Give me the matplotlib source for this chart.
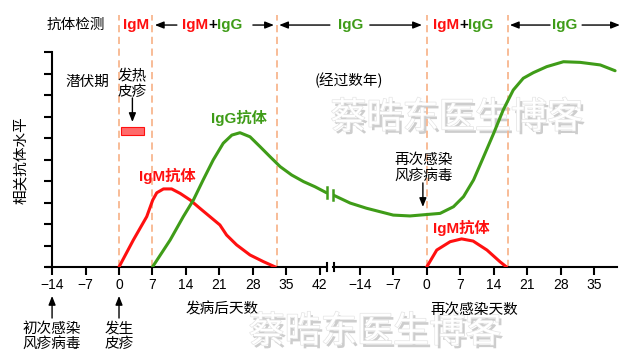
import matplotlib
matplotlib.use('Agg')
import matplotlib.pyplot as plt
import matplotlib.transforms as mtransforms
import matplotlib.patheffects as pe

plt.rcParams['font.family'] = ['Noto Sans CJK SC', 'DejaVu Sans']
plt.rcParams['font.size'] = 10.5

RED = '#ff1010'
GREEN = '#3f9c18'
DASH = '#f8b68f'
LATIN = ['Liberation Sans', 'Noto Sans CJK SC']

# %% data, level in arbitrary units 0-10
# first infection, days after rash onset
prim_igm_days = [0, 3.0, 5.8, 7.05, 7.9, 9.3, 11.0, 12.8, 14.9, 16.9, 19.0, 21.1,
                 22.5, 24.6, 27.4, 30.2, 32.7]
prim_igm = [0, 1.26, 2.35, 3.12, 3.46, 3.64, 3.64, 3.43, 3.12, 2.74, 2.35, 1.96,
            1.49, 1.03, 0.56, 0.25, 0.0]

prim_igg_days = [7, 10.7, 13.45, 15.55, 17.6, 19.7, 21.8, 23.6, 25.3, 27.4, 29.5,
                 31.6, 33.7, 36.1, 38.6, 41.0, 43.4]
prim_igg = [0, 1.26, 2.35, 3.12, 4.06, 4.99, 5.77, 6.15, 6.26, 6.07, 5.61,
            5.14, 4.68, 4.29, 3.98, 3.74, 3.46]

# re-infection, days after exposure
sec_igg_days = [-19.6, -16.0, -12.6, -7.0, -3.5, -1.4, 2.8, 5.6, 7.7, 9.8, 11.9,
                14.0, 16.0, 18.1, 20.2, 22.3, 25.1, 28.6, 32.1, 36.3, 39.4]
sec_igg = [3.36, 2.98, 2.74, 2.42, 2.38, 2.42, 2.5, 2.81, 3.28, 4.06, 5.14,
           6.23, 7.32, 8.25, 8.8, 9.06, 9.34, 9.57, 9.54, 9.42, 9.15]

sec_igm_days = [0, 2.1, 4.9, 7.3, 9.7, 12.6, 15.3, 16.7]
sec_igm = [0, 0.79, 1.18, 1.31, 1.21, 0.79, 0.25, 0]

rash_start, rash_end, rash_level = 0.35, 5.2, 6.35

prim_bounds = [0, 7, 33]
sec_bounds = [0, 17]
prim_ticks = [-14, -7, 0, 7, 14, 21, 28, 35, 42]
sec_ticks = [-14, -7, 0, 7, 14, 21, 28, 35]

# %% figure with broken x axis
fig = plt.figure(figsize=(6.4, 3.62), dpi=100)
ax1 = fig.add_axes([47/640, 95/362, 280/640, 214.5/362])
ax2 = fig.add_axes([333/640, 95/362, 284/640, 214.5/362])
for ax in (ax1, ax2):
    ax.patch.set_visible(False)
    ax.set_ylim(0, 10)
    ax.spines[['top', 'right']].set_visible(False)
    ax.spines['bottom'].set_linewidth(1.5)
    ax.tick_params(axis='x', direction='out', length=6, width=1.5, pad=2,
                   labelsize=10, labelfontfamily='Liberation Sans')
ax1.set_xlim(-15.06, 43.5)
ax2.set_xlim(-19.6, 39.8)
ax1.set_xticks(prim_ticks)
ax2.set_xticks(sec_ticks)

ax1.spines['left'].set_position(('data', -14))
ax1.spines['left'].set_linewidth(1.5)
ax1.set_yticks(range(0, 11))
ax1.set_yticklabels([])
ax1.tick_params(axis='y', direction='out', length=6, width=1.5)
ax2.spines['left'].set_visible(False)
ax2.tick_params(axis='y', left=False, labelleft=False)

# break marks on the axis
ax1.plot([1, 1], [-0.02, 0.02], transform=ax1.transAxes, color='k', lw=1.5, clip_on=False)
ax2.plot([0.005, 0.005], [-0.02, 0.02], transform=ax2.transAxes, color='k', lw=1.5, clip_on=False)

# dashed phase boundaries
for x in prim_bounds:
    ax1.axvline(x, ymin=0, ymax=1.175, color=DASH, lw=1.3, ls=(0, (4, 2.5)), clip_on=False, zorder=1)
for x in sec_bounds:
    ax2.axvline(x, ymin=0, ymax=1.175, color=DASH, lw=1.3, ls=(0, (4, 2.5)), clip_on=False, zorder=1)

# curves
line_kw = dict(lw=2.2, zorder=3, solid_joinstyle='round', solid_capstyle='round')
ax1.plot(prim_igm_days, prim_igm, color=RED, **line_kw)
ax1.plot(prim_igg_days, prim_igg, color=GREEN, **line_kw)
ax2.plot(sec_igg_days, sec_igg, color=GREEN, **line_kw)
ax2.plot(sec_igm_days, sec_igm, color=RED, **line_kw)
ax1.plot([prim_igg_days[-1]] * 2, [prim_igg[-1] - 0.25, prim_igg[-1] + 0.25], color=GREEN, lw=1.8, clip_on=False)
ax2.plot([sec_igg_days[0]] * 2, [sec_igg[0] - 0.25, sec_igg[0] + 0.25], color=GREEN, lw=1.8, clip_on=False)

# rash bar
ax1.barh(rash_level, rash_end - rash_start, left=rash_start, height=0.38,
         color='#ff6b6b', edgecolor=RED, lw=0.8, zorder=3)

# %% labels
b1 = mtransforms.blended_transform_factory(ax1.transData, ax1.transAxes)
b2 = mtransforms.blended_transform_factory(ax2.transData, ax2.transAxes)
arrow_kw = dict(arrowstyle='-|>,head_length=0.5,head_width=0.2', color='k', lw=1,
                shrinkA=0, shrinkB=0)
TOP = 1.128


def harrow(ax, tr, x0, x1):
    ax.annotate('', xy=(x1, TOP), xytext=(x0, TOP), xycoords=tr, textcoords=tr,
                arrowprops=arrow_kw, annotation_clip=False)


def mixed(ax, tr, x, y, size=11):
    kw = dict(fontsize=size, fontweight='bold', family=LATIN, va='bottom', ha='left')
    t1 = ax.text(x, y, 'IgM', transform=tr, color=RED, clip_on=False,
                 fontsize=size, fontweight='bold', family=LATIN, va='center', ha='left')
    t2 = ax.annotate('+', xy=(1, 0), xycoords=t1, color='k', **kw)
    ax.annotate('IgG', xy=(1, 0), xycoords=t2, color=GREEN, **kw)


bold = dict(fontsize=11, fontweight='bold', family=LATIN, ha='center', va='center')
ax1.text(-9.0, TOP, '抗体检测', transform=b1, ha='center', va='center')
ax1.text(3.6, TOP, 'IgM', transform=b1, color=RED, **bold)
harrow(ax1, b1, 12.1, 7.5)
mixed(ax1, b1, 13.2, TOP)
harrow(ax1, b1, 28.0, 32.4)
harrow(ax1, b1, 44.1, 33.5)
ax2.text(-16.0, TOP, 'IgG', transform=b2, color=GREEN, **bold)
harrow(ax2, b2, -11.9, -1.0)
mixed(ax2, b2, 1.3, TOP)
harrow(ax2, b2, 25.8, 17.4)
ax2.text(28.9, TOP, 'IgG', transform=b2, color=GREEN, **bold)
harrow(ax2, b2, 32.5, 40.4)

ax1.text(-6.6, 8.62, '潜伏期', ha='center', va='center')
ax1.text(2.8, 8.53, '发热\n皮疹', ha='center', va='center', linespacing=1.1)
ax1.annotate('', xy=(2.8, 6.76), xytext=(2.8, 7.88), arrowprops=arrow_kw)
ax1.text(10.1, 4.24, 'IgM抗体', color=RED, **bold)
ax1.text(25.1, 6.95, 'IgG抗体', color=GREEN, **bold)
ax2.text(-16.2, 8.69, '(经过数年)', ha='center', va='center')
ax2.text(-0.56, 4.62, '再次感染\n风疹病毒', ha='center', va='center', linespacing=1.1)
ax2.annotate('', xy=(-0.8, 2.8), xytext=(-0.8, 3.92), arrowprops=arrow_kw)
ax2.text(7.2, 1.82, 'IgM抗体', color=RED, **bold)

ax1.set_ylabel('相关抗体水平', labelpad=8)
ax1.text(21.5, -0.2, '发病后天数', transform=b1, ha='center', va='center', zorder=4)
ax2.text(9.9, -0.2, '再次感染天数', transform=b2, ha='center', va='center', zorder=4)

ax1.text(-14, -0.322, '初次感染\n风疹病毒', transform=b1, ha='center', va='center', linespacing=1.1)
ax1.annotate('', xy=(-14, -0.135), xytext=(-14, -0.238), xycoords=b1, textcoords=b1,
             arrowprops=arrow_kw, annotation_clip=False)
ax1.text(0, -0.322, '发生\n皮疹', transform=b1, ha='center', va='center', linespacing=1.1)
ax1.annotate('', xy=(0, -0.135), xytext=(0, -0.238), xycoords=b1, textcoords=b1,
             arrowprops=arrow_kw, annotation_clip=False)

# watermark, drawn under everything else
wm = [pe.withSimplePatchShadow(offset=(2, -2.5), shadow_rgbFace='#909090', alpha=0.45),
      pe.withStroke(linewidth=1.0, foreground='#e4e4e4')]
ax2.text(6.3, 6.95, '蔡晧东医生博客', fontsize=26, color='white', ha='center', va='center',
         path_effects=wm, zorder=0.5, clip_on=False)
ax2.text(-10.8, -0.303, '蔡晧东医生博客', transform=b2, fontsize=26, color='white',
         ha='center', va='center', path_effects=wm, zorder=0.5, clip_on=False)

fig.savefig('out.png', dpi=100)
